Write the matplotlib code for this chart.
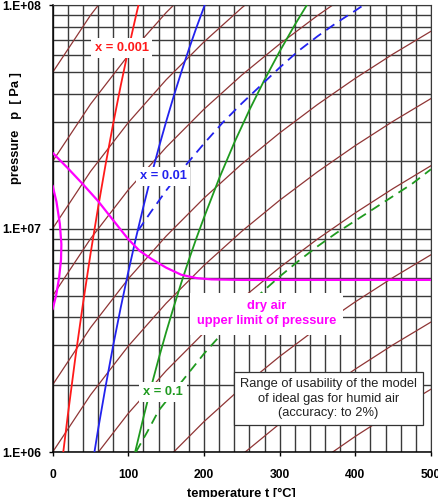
import matplotlib

matplotlib.use("Agg")
import matplotlib.pyplot as plt  # noqa: E402
from matplotlib.ticker import FixedLocator, FixedFormatter, LogLocator, NullFormatter  # noqa: E402

plt.rcParams["font.family"] = ["Liberation Sans", "DejaVu Sans"]

# --- data ------------------------------------------------------------------
# isentropes (brown), sampled every 50 degC, pressures in Pa
ise_t = [0, 50, 100, 150, 200, 250, 300, 350, 400, 450, 500]
ise_p = [
    [5.0e4, 9.0e4, 1.49e5, 2.31e5, 3.42e5, 4.86e5, 6.69e5, 8.97e5, 1.175e6, 1.51e6, 1.91e6],
    [1.0e5, 1.80e5, 2.98e5, 4.63e5, 6.84e5, 9.72e5, 1.338e6, 1.793e6, 2.35e6, 3.02e6, 3.815e6],
    [2.0e5, 3.60e5, 5.96e5, 9.25e5, 1.368e6, 1.945e6, 2.677e6, 3.587e6, 4.70e6, 6.04e6, 7.63e6],
    [5.0e5, 9.0e5, 1.49e6, 2.31e6, 3.42e6, 4.86e6, 6.69e6, 8.97e6, 1.175e7, 1.51e7, 1.91e7],
    [1.0e6, 1.80e6, 2.98e6, 4.63e6, 6.84e6, 9.72e6, 1.338e7, 1.793e7, 2.35e7, 3.02e7, 3.815e7],
    [2.0e6, 3.60e6, 5.96e6, 9.25e6, 1.368e7, 1.945e7, 2.677e7, 3.587e7, 4.70e7, 6.04e7, 7.63e7],
    [5.0e6, 9.0e6, 1.49e7, 2.31e7, 3.42e7, 4.86e7, 6.69e7, 8.97e7, 1.175e8, 1.51e8, 1.91e8],
    [1.0e7, 1.80e7, 2.98e7, 4.63e7, 6.84e7, 9.72e7, 1.338e8, 1.793e8, 2.35e8, 3.02e8, 3.815e8],
    [2.0e7, 3.60e7, 5.96e7, 9.25e7, 1.368e8, 1.945e8, 2.677e8, 3.587e8, 4.70e8, 6.04e8, 7.63e8],
    [5.0e7, 9.0e7, 1.49e8, 2.31e8, 3.42e8, 4.86e8, 6.69e8, 8.97e8, 1.175e9, 1.51e9, 1.91e9],
]

# saturation lines x = 0.001 / 0.01 / 0.1
red_t = [14, 20, 30, 40, 50, 60, 70, 80, 90, 100, 110, 116]
red_p = [1.0e6, 1.46e6, 2.65e6, 4.6e6, 7.7e6, 1.24e7, 1.94e7, 2.95e7, 4.37e7, 6.32e7, 8.93e7, 1.09e8]

blue_t = [55, 60, 70, 80, 90, 100, 110, 120, 130, 140, 150, 160, 170, 180, 190, 201]
blue_p = [9.9e5, 1.26e6, 1.97e6, 3.0e6, 4.44e6, 6.41e6, 9.06e6, 1.256e7, 1.71e7, 2.285e7,
          3.01e7, 3.91e7, 5.01e7, 6.34e7, 7.93e7, 1.0e8]

green_t = [109, 120, 130, 140, 150, 160, 170, 180, 190, 200, 220, 240, 260, 280, 300, 320, 336]
green_p = [1.0e6, 1.43e6, 1.95e6, 2.61e6, 3.44e6, 4.46e6, 5.72e6, 7.24e6, 9.06e6, 1.12e7,
           1.675e7, 2.42e7, 3.39e7, 4.63e7, 6.2e7, 8.15e7, 1.0e8]

# 2 % accuracy limits (dashed)
blue_d_t = [113, 130, 150, 175, 200, 225, 250, 275, 300, 325, 350, 375, 400, 411]
blue_d_p = [9.8e6, 1.189e7, 1.479e7, 1.905e7, 2.399e7, 2.985e7, 3.631e7, 4.365e7, 5.248e7,
            6.237e7, 7.244e7, 8.318e7, 9.441e7, 1.0e8]

green_d_t = [110, 125, 140, 160, 180, 200, 225, 250, 275, 300, 325, 350, 375, 400, 425, 450, 475, 500]
green_d_p = [1.0e6, 1.23e6, 1.531e6, 1.862e6, 2.265e6, 2.754e6, 3.428e6, 4.217e6, 5.129e6,
             6.095e6, 7.161e6, 8.318e6, 9.55e6, 1.084e7, 1.230e7, 1.396e7, 1.585e7, 1.841e7]

# dry air upper limit of pressure (magenta)
dry_t = [0, 20, 40, 60, 80, 100, 115, 130, 150, 170, 190, 210, 250, 500]
dry_p = [2.18e7, 1.862e7, 1.578e7, 1.327e7, 1.089e7, 8.95e6, 7.94e6, 7.33e6, 6.68e6,
         6.21e6, 6.0e6, 5.92e6, 5.89e6, 5.89e6]
arc_t = [0, 5, 9.5, 11.5, 11, 8.5, 4.5, 0]
arc_p = [1.549e7, 1.318e7, 1.047e7, 8.51e6, 7.24e6, 6.03e6, 5.01e6, 4.37e6]

xticks = [0, 100, 200, 300, 400, 500]
yticks = [1e6, 1e7, 1e8]
ytick_labels = ["1.E+06", "1.E+07", "1.E+08"]

RED = "#ff1a1a"
BLUE = "#2222ee"
GREEN = "#1f9a1f"
MAGENTA = "#ff00ff"
BROWN = "#8f3535"
GRIDC = "#3a3a3a"
DASH = (5.5, 3.5)

fig = plt.figure(figsize=(4.39, 4.97), dpi=100)
ax = fig.add_axes([0.120, 0.0905, 0.8617, 0.8994])
ax.set_yscale("log")
ax.set_xlim(0, 500)
ax.set_ylim(1e6, 1e8)

# grid: every 20 degC, log minor lines on pressure
ax.xaxis.set_major_locator(FixedLocator(xticks))
ax.xaxis.set_minor_locator(FixedLocator(list(range(0, 501, 20))))
ax.yaxis.set_major_locator(FixedLocator(yticks))
ax.yaxis.set_major_formatter(FixedFormatter(ytick_labels))
ax.yaxis.set_minor_locator(LogLocator(base=10, subs=range(2, 10)))
ax.yaxis.set_minor_formatter(NullFormatter())
ax.grid(which="both", axis="both", color=GRIDC, linewidth=1.0, zorder=0)
ax.set_axisbelow(True)
ax.tick_params(which="major", length=3, width=1, color="black", direction="out")
ax.tick_params(which="minor", length=0)
ax.tick_params(axis="y", pad=5, labelsize=8.7)
ax.tick_params(axis="x", pad=9, labelsize=8.7)
for lab in ax.get_xticklabels() + ax.get_yticklabels():
    lab.set_fontweight("bold")
for side in ("top", "right"):
    ax.spines[side].set_color(GRIDC)
for side in ("left", "bottom"):
    ax.spines[side].set_color("black")
    ax.spines[side].set_linewidth(1.1)

for row in ise_p:
    ax.plot(ise_t, row, color=BROWN, linewidth=0.9, zorder=2)

ax.plot(red_t, red_p, color=RED, linewidth=1.3, zorder=3)
ax.plot(blue_t, blue_p, color=BLUE, linewidth=1.3, zorder=3)
ax.plot(green_t, green_p, color=GREEN, linewidth=1.3, zorder=3)
ax.plot(blue_d_t, blue_d_p, color=BLUE, linewidth=1.3, dashes=DASH, zorder=3)
ax.plot(green_d_t, green_d_p, color=GREEN, linewidth=1.3, dashes=DASH, zorder=3)
ax.plot(dry_t, dry_p, color=MAGENTA, linewidth=1.6, zorder=3)
ax.plot(arc_t, arc_p, color=MAGENTA, linewidth=1.6, zorder=3)

label_box = dict(boxstyle="square,pad=0.3", facecolor="white", edgecolor="none")
ax.text(91, 6.41e7, "x = 0.001", color=RED, fontsize=9.3, fontweight="bold",
        ha="center", va="center", bbox=label_box, zorder=5)
ax.text(146, 1.71e7, "x = 0.01", color=BLUE, fontsize=9.3, fontweight="bold",
        ha="center", va="center", bbox=label_box, zorder=5)
ax.text(146, 1.85e6, "x = 0.1", color=GREEN, fontsize=9.3, fontweight="bold",
        ha="center", va="center", bbox=label_box, zorder=5)
ax.text(282.7, 4.15e6, "dry air\nupper limit of pressure", color=MAGENTA, fontsize=9.3,
        fontweight="bold", ha="center", va="center", linespacing=1.35,
        bbox=dict(boxstyle="square,pad=0.55", facecolor="white", edgecolor="none"), zorder=5)
ax.text(364.6, 1.73e6, "Range of usability of the model\nof ideal gas for humid air\n(accuracy: to 2%)",
        color="#222222", fontsize=9.3, ha="center", va="center", linespacing=1.28,
        bbox=dict(boxstyle="square,pad=0.45", facecolor="white", edgecolor="#333333",
                  linewidth=0.9), zorder=5)

fig.text(16 / 439, 1 - 128 / 497, "pressure   p  [ Pa ]", rotation=90, fontsize=9.3,
         fontweight="bold", ha="center", va="center")
fig.text(241.7 / 439, 1 - 494 / 497, "temperature t [°C]", fontsize=9.3,
         fontweight="bold", ha="center", va="center")

fig.savefig("out.png", dpi=100)
